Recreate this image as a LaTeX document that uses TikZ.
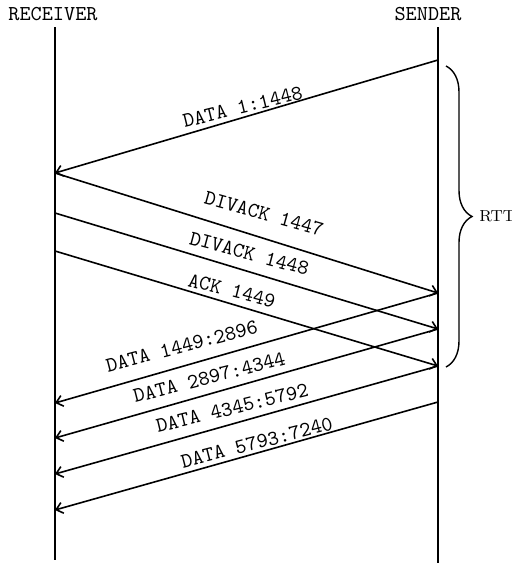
\documentclass[tikz,border=0pt]{standalone}
\usetikzlibrary{arrows.meta,decorations.pathreplacing}

\newcommand{\mono}{\fontsize{10.6}{12}\selectfont\ttfamily}

\begin{document}
\begin{tikzpicture}[
  x=0.5pt, y=-0.5pt,
  hdr/.style={font=\mono, inner sep=0pt, anchor=base},
  life/.style={line width=1pt},
  msg/.style={-{Straight Barb[length=3.2pt,width=5.5pt]}, line width=0.8pt},
  lbl/.style={font=\mono, sloped, inner sep=0pt, outer sep=0pt}
]
\useasboundingbox (0,0) rectangle (511,563);

% Lifeline headers
\node[hdr] (rcv) at (53,20)  {RECEIVER};
\node[hdr] (snd) at (428,20) {SENDER};

% Vertical lifelines
\coordinate (rtop) at (55,27);  \coordinate (rbot) at (55,560);
\coordinate (stop) at (438,27); \coordinate (sbot) at (438,563);
\draw[life] (rtop) -- (rbot);
\draw[life] (stop) -- (sbot);

% Points on the lifelines
\foreach \n/\y in {s1/60, s2/293, s3/329, s4/366, s5/402}
  \coordinate (\n) at (438,\y);
\foreach \n/\y in {r1/173, r2/213, r3/251, r4/403, r5/438, r6/474, r7/510}
  \coordinate (\n) at (55,\y);

% Messages
\draw[msg] (s1) -- (r1) node[lbl, pos=.503, above=1.8pt, rotate=-2.7] {DATA 1:1448};
\draw[msg] (r1) -- (s2) node[lbl, pos=.528, above=8.6pt, rotate=1.8]  {DIVACK 1447};
\draw[msg] (r2) -- (s3) node[lbl, pos=.495, above=5.4pt, rotate=1.9]  {DIVACK 1448};
\draw[msg] (r3) -- (s4) node[lbl, pos=.453, above=3.1pt, rotate=2.5]  {ACK 1449};
\draw[msg] (s2) -- (r4) node[lbl, pos=.655, above=6.4pt, rotate=-1.5] {DATA 1449:2896};
\draw[msg] (s3) -- (r5) node[lbl, pos=.586, above=4.7pt, rotate=-1.5] {DATA 2897:4344};
\draw[msg] (s4) -- (r6) node[lbl, pos=.527, above=4.3pt, rotate=-2.1] {DATA 4345:5792};
\draw[msg] (s5) -- (r7) node[lbl, pos=.466, above=1.7pt, rotate=-1.3] {DATA 5793:7240};

% Round trip
\coordinate (btop) at (446,66); \coordinate (bbot) at (446,367);
\draw[decorate, decoration={brace, amplitude=13pt}, line width=0.7pt] (btop) -- (bbot);
\node[font=\fontsize{8}{10}\selectfont, anchor=west, inner sep=0pt] (rtt) at (479,216) {RTT};
\end{tikzpicture}
\end{document}
